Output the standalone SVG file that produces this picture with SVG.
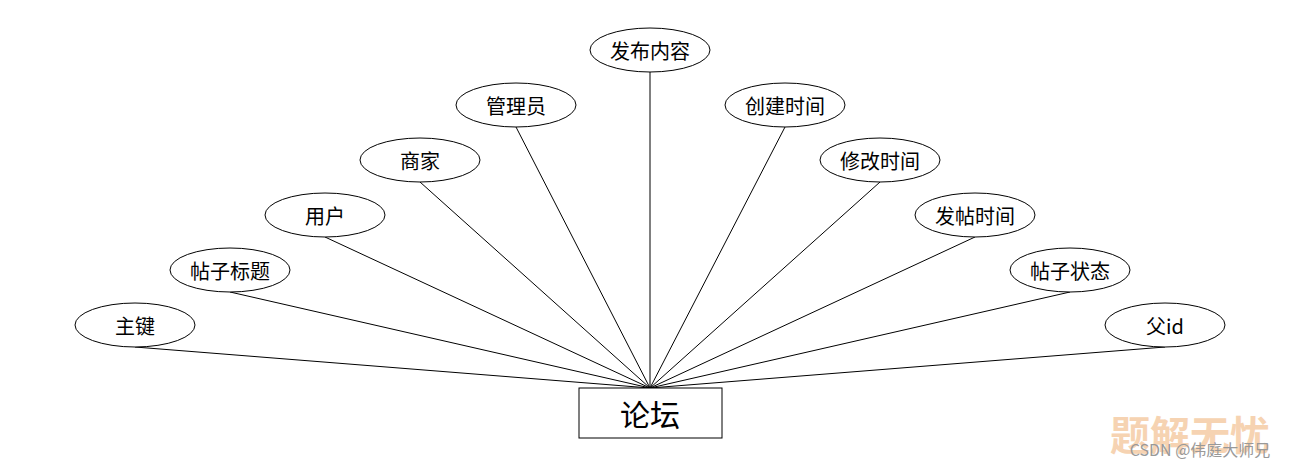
<svg xmlns="http://www.w3.org/2000/svg" width="1300" height="468" viewBox="0 0 1300 468">
<style>
ellipse{fill:#fff;stroke:#000;stroke-width:1}
.t{font-family:"Noto Sans CJK SC","Liberation Sans",sans-serif;font-size:20px;text-anchor:middle;dominant-baseline:central;fill:#000}
line{stroke:#000;stroke-width:1}
</style>
<rect width="1300" height="468" fill="#fff"/>
<g id="connectors">
<line x1="135" y1="347" x2="650" y2="388"/>
<line x1="230" y1="292" x2="650" y2="388"/>
<line x1="325" y1="237" x2="650" y2="388"/>
<line x1="420" y1="182" x2="650" y2="388"/>
<line x1="516" y1="127" x2="650" y2="388"/>
<line x1="650" y1="72" x2="650" y2="388"/>
<line x1="785" y1="127" x2="650" y2="388"/>
<line x1="880" y1="182" x2="650" y2="388"/>
<line x1="975" y1="237" x2="650" y2="388"/>
<line x1="1070" y1="292" x2="650" y2="388"/>
<line x1="1165" y1="347" x2="650" y2="388"/>
</g>
<g id="n1"><ellipse cx="135" cy="325" rx="60" ry="22"/><text class="t" x="135" y="325">主键</text></g>
<g id="n2"><ellipse cx="230" cy="270" rx="60" ry="22"/><text class="t" x="230" y="270">帖子标题</text></g>
<g id="n3"><ellipse cx="325" cy="215" rx="60" ry="22"/><text class="t" x="325" y="215">用户</text></g>
<g id="n4"><ellipse cx="420" cy="160" rx="60" ry="22"/><text class="t" x="420" y="160">商家</text></g>
<g id="n5"><ellipse cx="516" cy="105" rx="60" ry="22"/><text class="t" x="516" y="105">管理员</text></g>
<g id="n6"><ellipse cx="650" cy="50" rx="60" ry="22"/><text class="t" x="650" y="50">发布内容</text></g>
<g id="n7"><ellipse cx="785" cy="105" rx="60" ry="22"/><text class="t" x="785" y="105">创建时间</text></g>
<g id="n8"><ellipse cx="880" cy="160" rx="60" ry="22"/><text class="t" x="880" y="160">修改时间</text></g>
<g id="n9"><ellipse cx="975" cy="215" rx="60" ry="22"/><text class="t" x="975" y="215">发帖时间</text></g>
<g id="n10"><ellipse cx="1070" cy="270" rx="60" ry="22"/><text class="t" x="1070" y="270">帖子状态</text></g>
<g id="n11"><ellipse cx="1165" cy="325" rx="60" ry="22"/><text class="t" x="1165" y="325">父id</text></g>
<g id="main"><rect x="579" y="388" width="143" height="50" fill="#fff" stroke="#000"/><text class="t" x="650" y="413" style="font-size:30px">论坛</text></g>
<g id="watermark">
<text x="1190" y="450" style="font-family:'Noto Sans CJK SC',sans-serif;font-size:40px;font-weight:bold;text-anchor:middle;fill:#f5c9a0;opacity:0.8">题解无忧</text>
<text x="1200" y="456" style="font-family:'Noto Sans CJK SC',sans-serif;font-size:16px;text-anchor:middle;fill:#999">CSDN @伟庭大师兄</text>
</g>
</svg>
